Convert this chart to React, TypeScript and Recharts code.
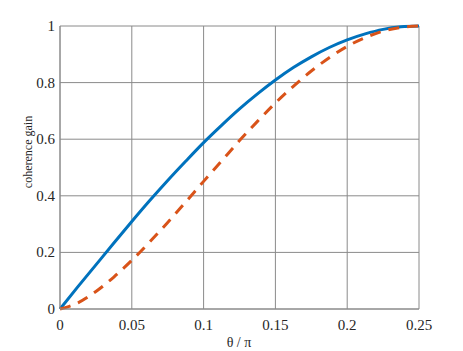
import { LineChart, Line, XAxis, YAxis, CartesianGrid } from "recharts";

// θ/π sample positions
const thetaOverPi = [
  0, 0.0125, 0.025, 0.0375, 0.05, 0.0625, 0.075, 0.0875, 0.1, 0.1125, 0.125,
  0.1375, 0.15, 0.1625, 0.175, 0.1875, 0.2, 0.2125, 0.225, 0.2375, 0.25,
];
// solid blue curve
const gainSolid = [
  0, 0.079, 0.156, 0.233, 0.309, 0.383, 0.454, 0.522, 0.588, 0.649, 0.707,
  0.76, 0.809, 0.853, 0.891, 0.924, 0.951, 0.972, 0.988, 0.997, 1,
];
// dashed orange curve
const gainDashed = [
  0, 0.022, 0.062, 0.113, 0.172, 0.237, 0.306, 0.378, 0.451, 0.523, 0.595,
  0.663, 0.728, 0.787, 0.841, 0.888, 0.928, 0.959, 0.982, 0.995, 1,
];
const xTicks = [0, 0.05, 0.1, 0.15, 0.2, 0.25];
const yTicks = [0, 0.2, 0.4, 0.6, 0.8, 1];

const data = thetaOverPi.map((x, i) => ({
  x,
  solid: gainSolid[i],
  dashed: gainDashed[i],
}));

const FONT = '"Liberation Serif", "Times New Roman", serif';
const GRID = "#8a8a8a";
const INK = "#262626";

function XTick(props: any) {
  const { x, y, payload } = props;
  return (
    <text
      x={x}
      y={y}
      dy={11}
      textAnchor="middle"
      fontFamily={FONT}
      fontSize={15}
      fill={INK}
    >
      {String(payload.value)}
    </text>
  );
}

function YTick(props: any) {
  const { x, y, payload } = props;
  return (
    <text
      x={x}
      y={y}
      dy={5}
      textAnchor="end"
      fontFamily={FONT}
      fontSize={15}
      fill={INK}
    >
      {String(payload.value)}
    </text>
  );
}

export default function App() {
  return (
    <div style={{ position: "absolute", left: 0, top: 0, background: "#fff" }}>
      <LineChart
        width={463}
        height={351}
        data={data}
        margin={{ top: 26, right: 44, left: 0, bottom: 0 }}
      >
        <CartesianGrid stroke={GRID} strokeWidth={1} />
        <XAxis
          dataKey="x"
          type="number"
          domain={[0, 0.25]}
          ticks={xTicks}
          height={42}
          tickLine={false}
          tickSize={0}
          tickMargin={10}
          axisLine={{ stroke: GRID }}
          tick={XTick}
          label={() => (
            <text
              x={239}
              y={347}
              textAnchor="middle"
              fontFamily={FONT}
              fontSize={14}
              fill={INK}
            >
              θ / π
            </text>
          )}
        />
        <YAxis
          type="number"
          domain={[0, 1]}
          ticks={yTicks}
          width={60}
          tickLine={false}
          tickSize={0}
          tickMargin={5}
          axisLine={{ stroke: GRID }}
          tick={YTick}
          label={() => (
            <text
              x={32}
              y={152}
              transform="rotate(-90 32 152)"
              textAnchor="middle"
              fontFamily={FONT}
              fontSize={12}
              fill={INK}
            >
              coherence gain
            </text>
          )}
        />
        <Line
          dataKey="solid"
          type="monotone"
          stroke="#0072BD"
          strokeWidth={3}
          dot={false}
          isAnimationActive={false}
        />
        <Line
          dataKey="dashed"
          type="monotone"
          stroke="#D95319"
          strokeWidth={3}
          strokeDasharray="11 8"
          dot={false}
          isAnimationActive={false}
        />
      </LineChart>
    </div>
  );
}
